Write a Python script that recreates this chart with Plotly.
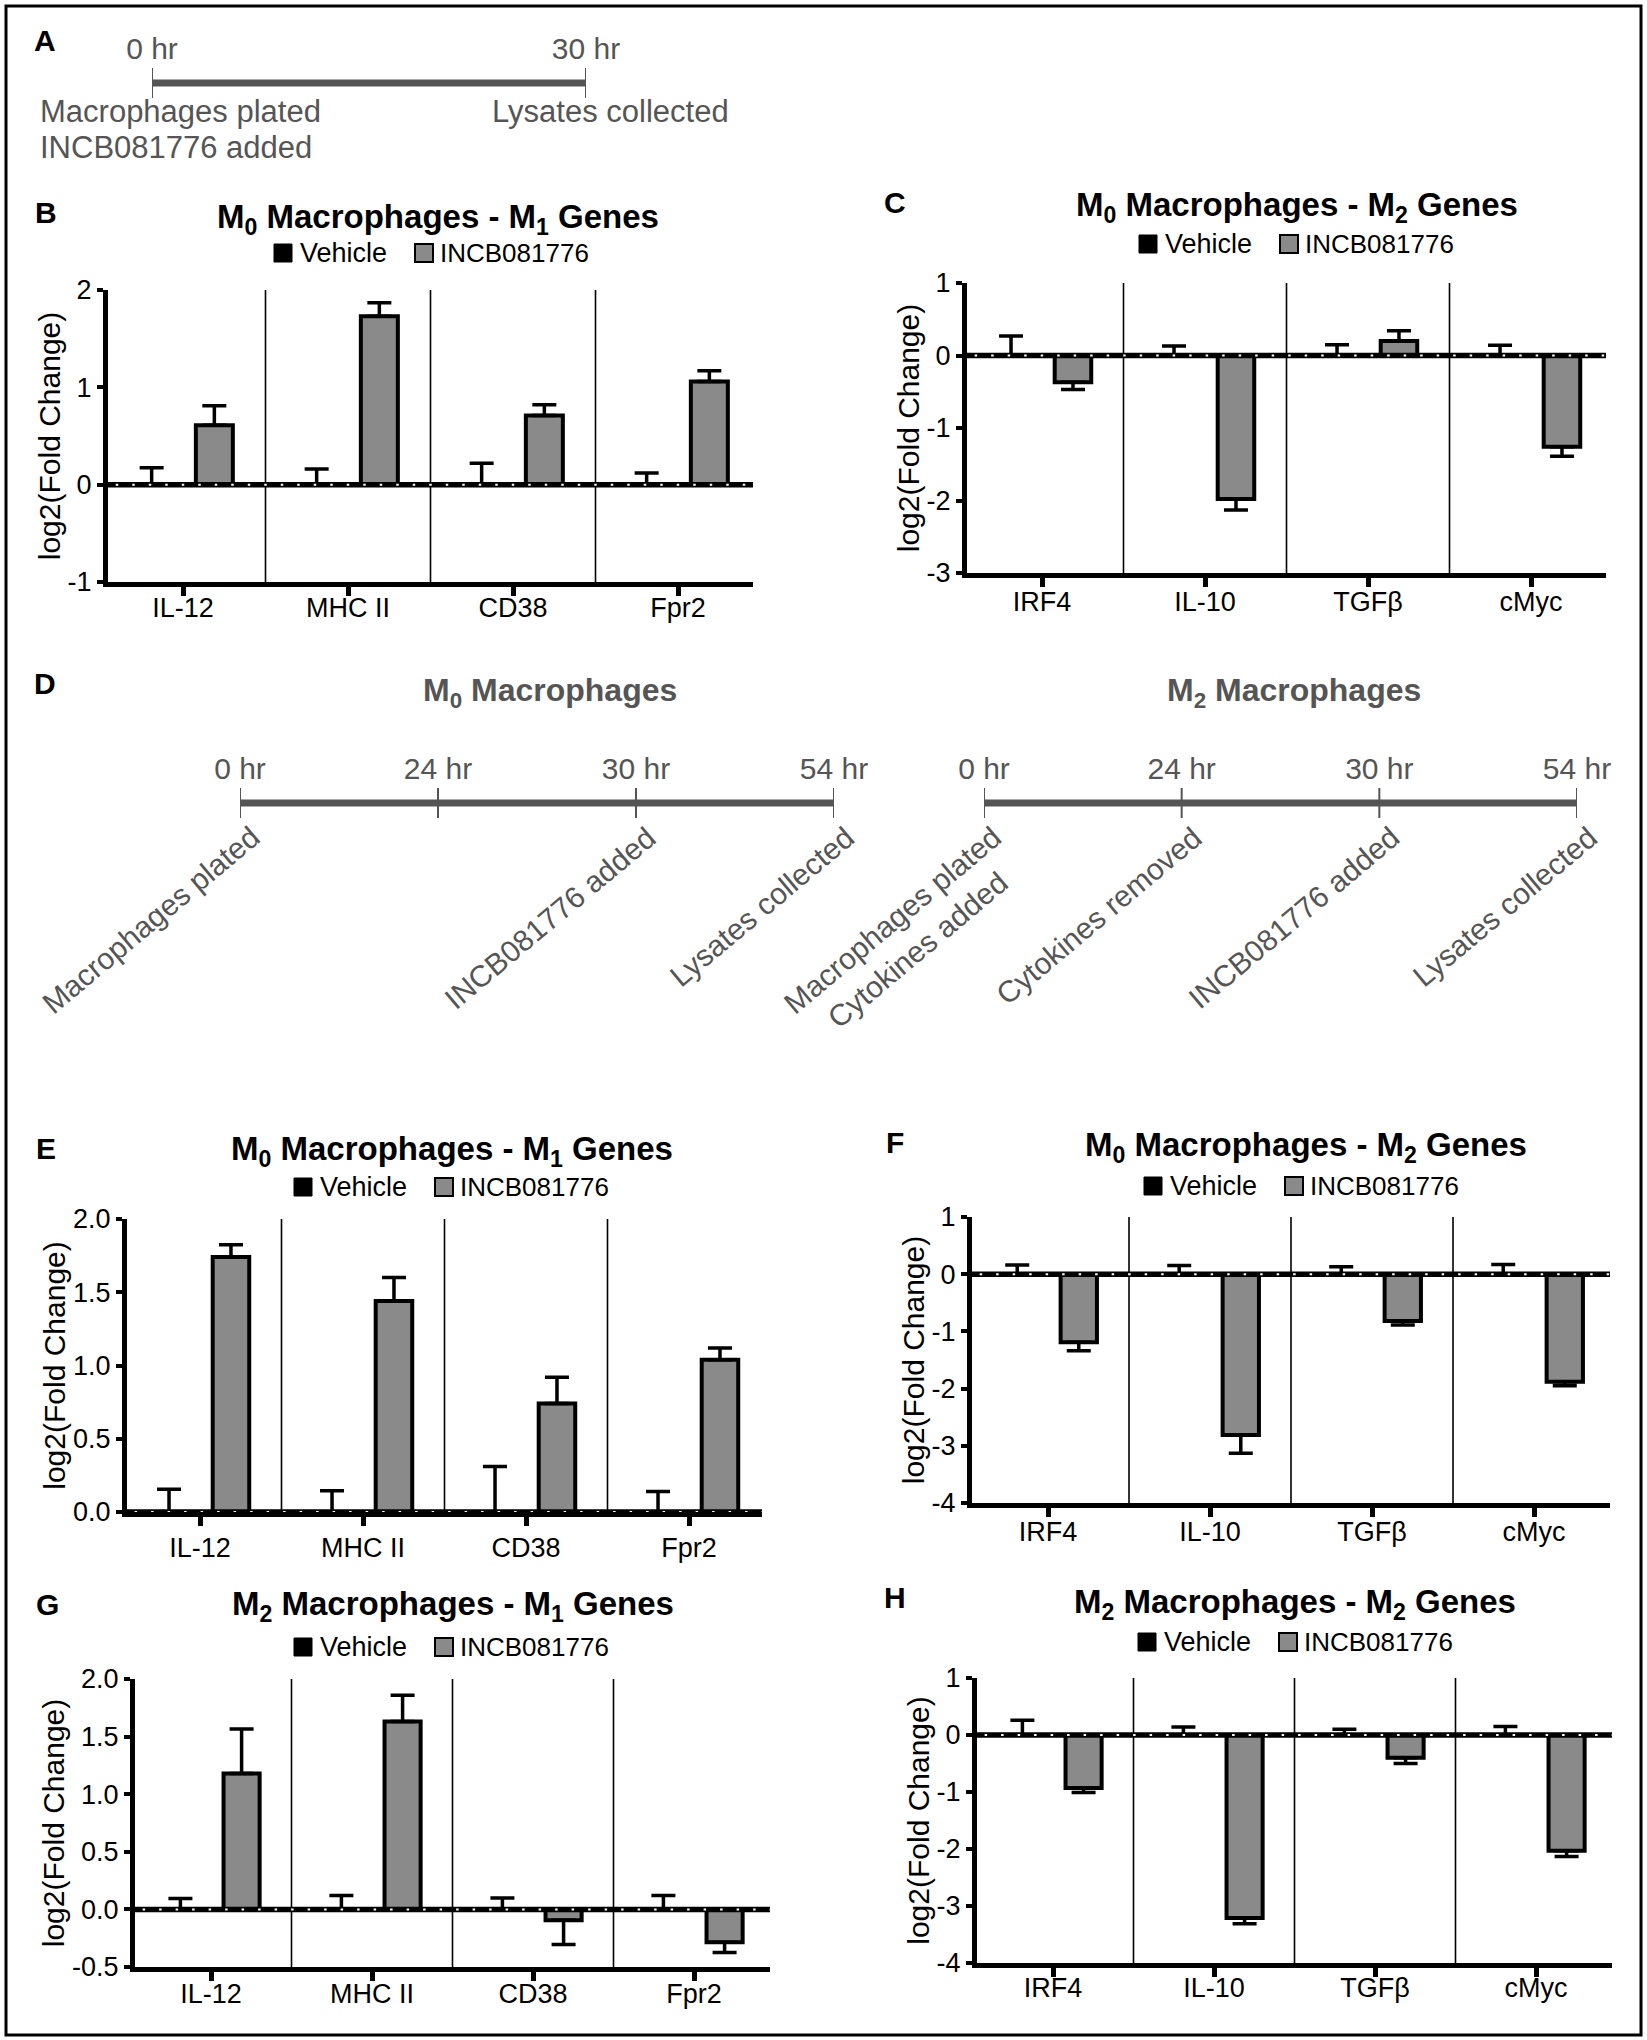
import plotly.graph_objects as go

W, H = 1647, 2040
FONT = "Liberation Sans, Arial, Helvetica, sans-serif"
GRAY_TXT = "#555555"
BAR_GRAY = "#8a8a8a"

# ---------------- data ----------------
m1_genes = ["IL-12", "MHC II", "CD38", "Fpr2"]
m2_genes = ["IRF4", "IL-10", "TGFβ", "cMyc"]
series_names = ["Vehicle", "INCB081776"]

# B: M0 macrophages - M1 genes (30 hr treatment)
b_vehicle = [0.0, 0.0, 0.0, 0.0]
b_vehicle_err = [0.175, 0.16, 0.22, 0.12]
b_incb = [0.61, 1.73, 0.71, 1.06]
b_incb_err = [0.20, 0.14, 0.11, 0.11]

# C: M0 macrophages - M2 genes (30 hr treatment)
c_vehicle = [0.0, 0.0, 0.0, 0.0]
c_vehicle_err = [0.27, 0.13, 0.15, 0.14]
c_incb = [-0.37, -1.98, 0.20, -1.26]
c_incb_err = [0.10, 0.15, 0.14, 0.13]

# E: M0 macrophages - M1 genes (24 hr treatment)
e_vehicle = [0.0, 0.0, 0.0, 0.0]
e_vehicle_err = [0.155, 0.145, 0.31, 0.14]
e_incb = [1.74, 1.44, 0.74, 1.04]
e_incb_err = [0.085, 0.16, 0.18, 0.08]

# F: M0 macrophages - M2 genes (24 hr treatment)
f_vehicle = [0.0, 0.0, 0.0, 0.0]
f_vehicle_err = [0.16, 0.15, 0.13, 0.17]
f_incb = [-1.19, -2.81, -0.82, -1.88]
f_incb_err = [0.15, 0.32, 0.07, 0.07]

# G: M2 macrophages - M1 genes
g_vehicle = [0.0, 0.0, 0.0, 0.0]
g_vehicle_err = [0.095, 0.12, 0.10, 0.12]
g_incb = [1.18, 1.63, -0.095, -0.285]
g_incb_err = [0.385, 0.23, 0.21, 0.09]

# H: M2 macrophages - M2 genes
h_vehicle = [0.0, 0.0, 0.0, 0.0]
h_vehicle_err = [0.26, 0.14, 0.10, 0.15]
h_incb = [-0.93, -3.21, -0.40, -2.03]
h_incb_err = [0.08, 0.10, 0.10, 0.10]

# y-axis ticks
ticks_b = [-1, 0, 1, 2]
ticks_c = [-3, -2, -1, 0, 1]
ticks_e = [0.0, 0.5, 1.0, 1.5, 2.0]
ticks_f = [-4, -3, -2, -1, 0, 1]
ticks_g = [-0.5, 0.0, 0.5, 1.0, 1.5, 2.0]
ticks_h = [-4, -3, -2, -1, 0, 1]

# timelines
a_hours = ["0 hr", "30 hr"]
a_start_events = ["Macrophages plated", "INCB081776 added"]
a_end_event = "Lysates collected"
d_hours = ["0 hr", "24 hr", "30 hr", "54 hr"]
d_m0_events = ["Macrophages plated", "", "INCB081776 added", "Lysates collected"]
d_m2_events = ["Macrophages plated<br>Cytokines added", "Cytokines removed",
               "INCB081776 added", "Lysates collected"]


# ---------------- helpers ----------------
def px_x(v):
    return v / W


def px_y(v):
    return 1 - v / H


def ax_names(n):
    s = "" if n == 1 else str(n)
    return f"x{s}", f"y{s}", f"xaxis{s}", f"yaxis{s}"


fig = go.Figure()
shapes = []
annotations = []
layout_axes = {}

# outer frame
shapes.append(dict(type="rect", xref="paper", yref="paper",
                   x0=px_x(6), x1=px_x(1641), y0=px_y(2035), y1=px_y(6),
                   line=dict(color="black", width=3), layer="above"))

panels = [
    dict(n=1, letter="B", title="M<sub>0</sub> Macrophages - M<sub>1</sub> Genes",
         cats=m1_genes, veh=b_vehicle, veh_err=b_vehicle_err, incb=b_incb, incb_err=b_incb_err,
         ticks=ticks_b, fmt="{:g}", L=108, t0=183, S=165, top=290, bot=582, lab=-11,
         letter_xy=(46, 213), title_xy=(438, 219), legend_xy=(435, 253)),
    dict(n=2, letter="C", title="M<sub>0</sub> Macrophages - M<sub>2</sub> Genes",
         cats=m2_genes, veh=c_vehicle, veh_err=c_vehicle_err, incb=c_incb, incb_err=c_incb_err,
         ticks=ticks_c, fmt="{:g}", L=967, t0=1042, S=163, top=283, bot=573, lab=-8,
         letter_xy=(895, 203), title_xy=(1297, 207), legend_xy=(1300, 244)),
    dict(n=3, letter="E", title="M<sub>0</sub> Macrophages - M<sub>1</sub> Genes",
         cats=m1_genes, veh=e_vehicle, veh_err=e_vehicle_err, incb=e_incb, incb_err=e_incb_err,
         ticks=ticks_e, fmt="{:.1f}", L=127, t0=200, S=163, top=1219, bot=1512, lab=-1,
         letter_xy=(46, 1148), title_xy=(452, 1151), legend_xy=(455, 1187)),
    dict(n=4, letter="F", title="M<sub>0</sub> Macrophages - M<sub>2</sub> Genes",
         cats=m2_genes, veh=f_vehicle, veh_err=f_vehicle_err, incb=f_incb, incb_err=f_incb_err,
         ticks=ticks_f, fmt="{:g}", L=972, t0=1048, S=162, top=1217, bot=1503, lab=-8,
         letter_xy=(895, 1142), title_xy=(1306, 1147), legend_xy=(1305, 1186)),
    dict(n=5, letter="G", title="M<sub>2</sub> Macrophages - M<sub>1</sub> Genes",
         cats=m1_genes, veh=g_vehicle, veh_err=g_vehicle_err, incb=g_incb, incb_err=g_incb_err,
         ticks=ticks_g, fmt="{:.1f}", L=135, t0=211, S=161, top=1679, bot=1967, lab=-10,
         letter_xy=(47, 1604), title_xy=(453, 1606), legend_xy=(455, 1647)),
    dict(n=6, letter="H", title="M<sub>2</sub> Macrophages - M<sub>2</sub> Genes",
         cats=m2_genes, veh=h_vehicle, veh_err=h_vehicle_err, incb=h_incb, incb_err=h_incb_err,
         ticks=ticks_h, fmt="{:g}", L=977, t0=1053, S=161, top=1678, bot=1963, lab=-12,
         letter_xy=(895, 1597), title_xy=(1295, 1604), legend_xy=(1299, 1642)),
]

for p in panels:
    n = p["n"]
    xa, ya, xkey, ykey = ax_names(n)
    off = (p["t0"] - p["L"]) / p["S"]
    R = p["L"] + (3 + 2 * off) * p["S"]
    lo, hi = p["ticks"][0], p["ticks"][-1]

    # Vehicle bars (error bars point upward)
    fig.add_trace(go.Bar(
        x=p["cats"], y=p["veh"], name=series_names[0], xaxis=xa, yaxis=ya,
        marker=dict(color="black", line=dict(color="black", width=4)),
        error_y=dict(type="data", symmetric=False, array=p["veh_err"],
                     arrayminus=[0] * len(p["veh_err"]),
                     color="black", thickness=3.5, width=12),
        showlegend=False, hoverinfo="x+y"))
    # INCB081776 bars (error bars point away from zero)
    up = [e if v >= 0 else 0 for v, e in zip(p["incb"], p["incb_err"])]
    down = [0 if v >= 0 else e for v, e in zip(p["incb"], p["incb_err"])]
    fig.add_trace(go.Bar(
        x=p["cats"], y=p["incb"], name=series_names[1], xaxis=xa, yaxis=ya,
        marker=dict(color=BAR_GRAY, line=dict(color="black", width=4)),
        error_y=dict(type="data", symmetric=False, array=up, arrayminus=down,
                     color="black", thickness=3.5, width=12),
        showlegend=False, hoverinfo="x+y"))

    layout_axes[xkey] = dict(
        domain=[px_x(p["L"]), px_x(R)], range=[-off, 3 + off], anchor=ya,
        showline=True, linewidth=5, linecolor="black", ticks="outside",
        ticklen=9, tickwidth=5, tickcolor="black", showgrid=False, zeroline=False,
        tickfont=dict(size=27, color="black", family=FONT), ticklabelstandoff=p["lab"],
        automargin=False, fixedrange=True)
    layout_axes[ykey] = dict(
        domain=[px_y(p["bot"]), px_y(p["top"])], range=[lo, hi], anchor=xa,
        tickmode="array", tickvals=p["ticks"],
        ticktext=[p["fmt"].format(t) for t in p["ticks"]],
        showline=True, linewidth=5, linecolor="black", ticks="outside",
        ticklen=6, tickwidth=4, tickcolor="black", showgrid=False, zeroline=False,
        tickfont=dict(size=27, color="black", family=FONT),
        title=dict(text="log2(Fold Change)", font=dict(size=30, color="black", family=FONT),
                   standoff=0),
        automargin=False, fixedrange=True)

    # group separators
    for k in range(len(p["cats"]) - 1):
        shapes.append(dict(type="line", xref=xa, yref=ya, x0=k + 0.5, x1=k + 0.5,
                           y0=lo, y1=hi, line=dict(color="black", width=1.6), layer="below"))
    # zero baseline (thick black with white dots)
    shapes.append(dict(type="line", xref=f"{xa} domain", yref=ya, x0=0, x1=1, y0=0, y1=0,
                       line=dict(color="black", width=5.5), layer="above"))
    shapes.append(dict(type="line", xref=f"{xa} domain", yref=ya, x0=0.012, x1=1, y0=0, y1=0,
                       line=dict(color="white", width=2, dash="2.5px,14px"), layer="above"))

    # panel letter and title
    lx, ly = p["letter_xy"]
    annotations.append(dict(text=f"<b>{p['letter']}</b>", xref="paper", yref="paper",
                            x=px_x(lx), y=px_y(ly), xanchor="center", yanchor="middle",
                            showarrow=False, font=dict(size=30, color="black", family=FONT)))
    tx, ty = p["title_xy"]
    annotations.append(dict(text=f"<b>{p['title']}</b>", xref="paper", yref="paper",
                            x=px_x(tx), y=px_y(ty), xanchor="center", yanchor="middle",
                            showarrow=False, font=dict(size=33, color="black", family=FONT)))
    # legend
    gx, gy = p["legend_xy"]
    left = gx - 161
    shapes.append(dict(type="rect", xref="paper", yref="paper",
                       x0=px_x(left), x1=px_x(left + 18), y0=px_y(gy + 9), y1=px_y(gy - 9),
                       fillcolor="black", line=dict(color="black", width=1)))
    shapes.append(dict(type="rect", xref="paper", yref="paper",
                       x0=px_x(left + 141), x1=px_x(left + 159), y0=px_y(gy + 9), y1=px_y(gy - 9),
                       fillcolor=BAR_GRAY, line=dict(color="black", width=2)))
    annotations.append(dict(text=series_names[0], xref="paper", yref="paper",
                            x=px_x(left + 24), y=px_y(gy), xanchor="left", yanchor="middle",
                            showarrow=False, font=dict(size=27, color="black", family=FONT)))
    annotations.append(dict(text=series_names[1], xref="paper", yref="paper",
                            x=px_x(left + 164), y=px_y(gy), xanchor="left", yanchor="middle",
                            showarrow=False, font=dict(size=26, color="black", family=FONT)))

# ---------------- timelines ----------------
timelines = [
    dict(n=7, hours=a_hours, L=152, R=586, yline=83),
    dict(n=8, hours=d_hours, L=240, R=834, yline=803),
    dict(n=9, hours=d_hours, L=984, R=1577, yline=803),
]
for t in timelines:
    n = t["n"]
    xa, ya, xkey, ykey = ax_names(n)
    fig.add_trace(go.Scatter(
        x=t["hours"], y=[0] * len(t["hours"]), xaxis=xa, yaxis=ya,
        mode="lines+markers", line=dict(color=GRAY_TXT, width=7),
        marker=dict(symbol="line-ns", size=26, color=GRAY_TXT,
                    line=dict(color=GRAY_TXT, width=2)),
        showlegend=False, hoverinfo="x"))
    layout_axes[xkey] = dict(
        domain=[px_x(t["L"]), px_x(t["R"])], range=[0, len(t["hours"]) - 1],
        anchor=ya, side="top", showline=False, showgrid=False, zeroline=False,
        ticks="", tickfont=dict(size=30, color=GRAY_TXT, family=FONT), ticklabelstandoff=2,
        automargin=False, fixedrange=True)
    layout_axes[ykey] = dict(
        domain=[px_y(t["yline"] + 15), px_y(t["yline"] - 15)], range=[-1, 1],
        anchor=xa, visible=False, automargin=False, fixedrange=True)

EV_FONT = dict(size=31, color=GRAY_TXT, family=FONT)
# Panel A labels
annotations.append(dict(text="<b>A</b>", xref="paper", yref="paper", x=px_x(45), y=px_y(40),
                        xanchor="center", yanchor="middle", showarrow=False,
                        font=dict(size=30, color="black", family=FONT)))
for i, ev in enumerate(a_start_events):
    annotations.append(dict(text=ev, xref="x7", yref="y7", x=a_hours[0], y=0,
                            xanchor="left", yanchor="middle", xshift=-114, yshift=-29 - 35 * i,
                            showarrow=False, font=EV_FONT))
annotations.append(dict(text=a_end_event, xref="x7", yref="y7", x=a_hours[1], y=0,
                        xanchor="center", yanchor="middle", xshift=24, yshift=-29,
                        showarrow=False, font=EV_FONT))

# Panel D labels
annotations.append(dict(text="<b>D</b>", xref="paper", yref="paper", x=px_x(45), y=px_y(684),
                        xanchor="center", yanchor="middle", showarrow=False,
                        font=dict(size=30, color="black", family=FONT)))
for txt, cx in [("M<sub>0</sub> Macrophages", 550), ("M<sub>2</sub> Macrophages", 1294)]:
    annotations.append(dict(text=f"<b>{txt}</b>", xref="paper", yref="paper",
                            x=px_x(cx), y=px_y(692), xanchor="center", yanchor="middle",
                            showarrow=False, font=dict(size=32, color=GRAY_TXT, family=FONT)))
D_FONT = dict(size=30, color=GRAY_TXT, family=FONT)
for n, events in [(8, d_m0_events), (9, d_m2_events)]:
    for hr, ev in zip(d_hours, events):
        if not ev:
            continue
        extra = 22 if "<br>" in ev else 0
        annotations.append(dict(text=ev, xref=f"x{n}", yref=f"y{n}", x=hr, y=0,
                                xanchor="right", yanchor="top", xshift=29 + extra, yshift=-14,
                                textangle=-40, showarrow=False, font=D_FONT))

fig.update_layout(
    width=W, height=H, margin=dict(l=0, r=0, t=0, b=0, pad=0, autoexpand=False),
    paper_bgcolor="white", plot_bgcolor="rgba(0,0,0,0)",
    font=dict(family=FONT, color="black"),
    barmode="group", bargap=0.24, bargroupgap=0.41,
    showlegend=False, shapes=shapes, annotations=annotations,
    **layout_axes)

fig.write_html("out.html", config={"displayModeBar": False},
               post_script="document.body.style.margin='0';document.body.style.overflow='hidden';")
